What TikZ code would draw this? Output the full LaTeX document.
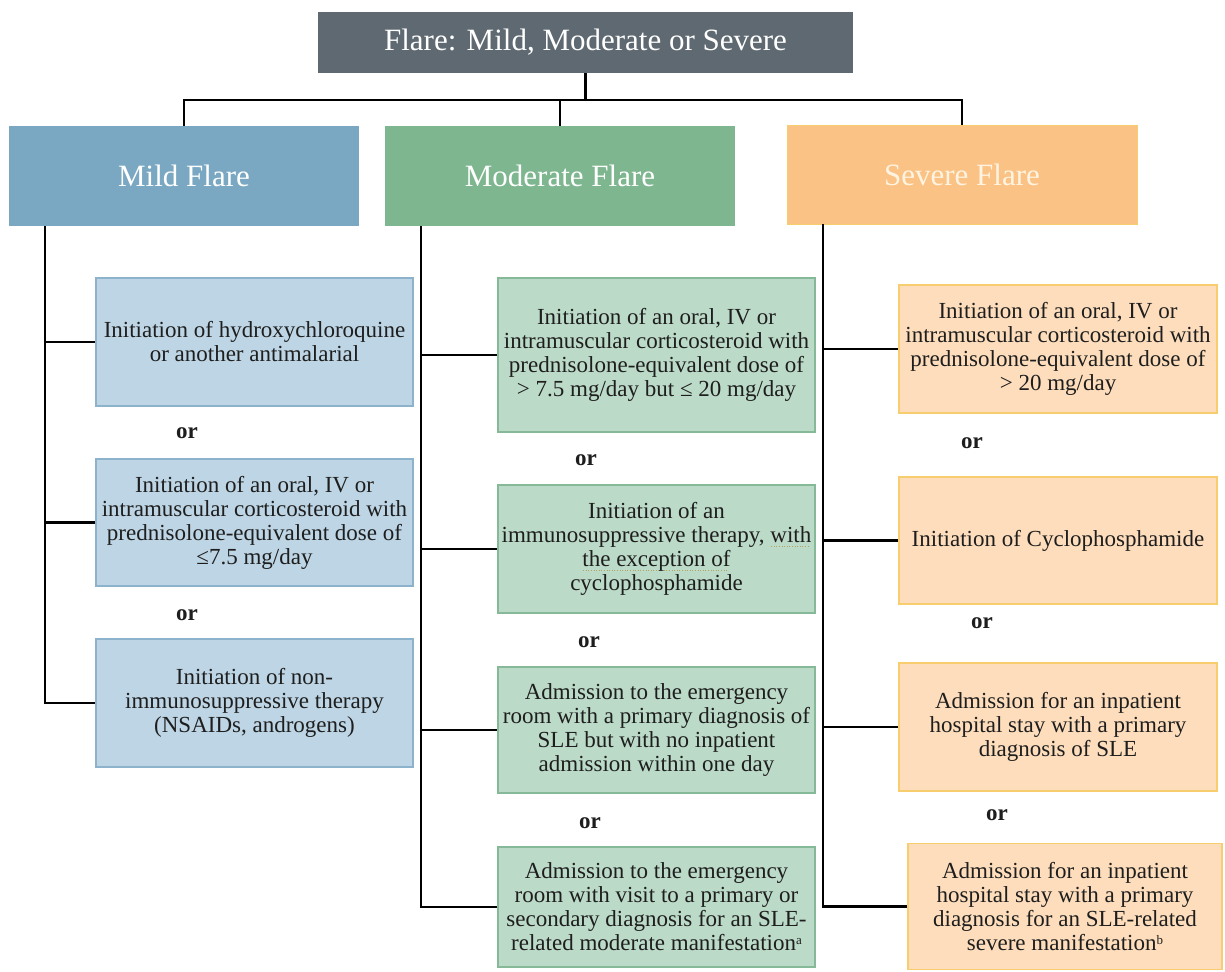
\documentclass[tikz,border=0pt]{standalone}
\usepackage{fontspec}
\setmainfont{Liberation Serif}
\definecolor{dotcol}{HTML}{B3A35C}
\newcommand\gdots[1]{\setbox0\hbox{#1}\rlap{\color{dotcol}\raisebox{-4pt}[0pt][0pt]{\hbox to \wd0{\leaders\hbox to 2.6pt{\hss\rule{1.1pt}{1.1pt}\hss}\hfill}}}\box0}
\newcommand\supmark[1]{\raisebox{6pt}[0pt][0pt]{\fontsize{13}{13}\selectfont #1}}
\definecolor{topfill}{HTML}{5E6971}
\definecolor{mildfill}{HTML}{7AA8C2}
\definecolor{modfill}{HTML}{7DB68F}
\definecolor{sevfill}{HTML}{FAC284}
\definecolor{sevtext}{HTML}{FFF4E2}
\definecolor{mildlight}{HTML}{BDD5E4}
\definecolor{milddraw}{HTML}{8CB2CC}
\definecolor{modlight}{HTML}{BBDAC7}
\definecolor{moddraw}{HTML}{85B997}
\definecolor{sevlight}{HTML}{FDDDBB}
\definecolor{sevdraw}{HTML}{F7CD6E}
\definecolor{txtcol}{HTML}{1E1E1E}
\begin{document}
\begin{tikzpicture}[x=1pt,y=-1pt,
  hdr/.style={inner sep=0pt, text=white, font=\fontsize{31}{33}\selectfont, minimum width=350pt, minimum height=100pt},
  child/.style={draw, line width=1.6pt, align=center, inner sep=0pt, text=txtcol, font=\fontsize{23}{24}\selectfont, minimum width=317pt},
  mildbox/.style={child, fill=mildlight, draw=milddraw},
  modbox/.style={child, fill=modlight, draw=moddraw},
  sevbox/.style={child, fill=sevlight, draw=sevdraw},
  ortext/.style={inner sep=0pt, text=txtcol, font=\fontsize{23}{24}\selectfont\bfseries},
  conn/.style={draw=black, line width=2.4pt, line join=miter}
]
\useasboundingbox[fill=white] (0,0) rectangle (1225,971);

% top
\node[inner sep=0pt, fill=topfill, text=white, font=\fontsize{31}{33}\selectfont, minimum width=535pt, minimum height=61pt] (top) at (585.5,42.5) {Flare: Mild, Moderate or Severe};

% headers
\node[hdr, fill=mildfill] (mild) at (184,176) {Mild Flare};
\node[hdr, fill=modfill] (mod) at (560,176) {Moderate Flare};
\node[hdr, fill=sevfill, draw=sevdraw, line width=1pt, text=sevtext, minimum height=98pt] (sev) at (962,175) {Severe Flare};

% mild children
\node[mildbox, minimum height=128pt] (m1) at (254.5,342) {Initiation of hydroxychloroquine\\or another antimalarial};
\node[ortext] (mo1) at (187,433) {or};
\node[mildbox, minimum height=127pt] (m2) at (254.5,522.5) {Initiation of an oral, IV or\\intramuscular corticosteroid with\\prednisolone-equivalent dose of\\≤7.5 mg/day};
\node[ortext] (mo2) at (187,615) {or};
\node[mildbox, minimum height=128pt] (m3) at (254.5,703) {Initiation of non-\\immunosuppressive therapy\\(NSAIDs, androgens)};

% moderate children
\node[modbox, minimum height=154pt] (d1) at (656.5,355) {Initiation of an oral, IV or\\intramuscular corticosteroid with\\prednisolone-equivalent dose of\\> 7.5 mg/day but ≤ 20 mg/day};
\node[ortext] (do1) at (586,460) {or};
\node[modbox, minimum height=128pt] (d2) at (656.5,549) {Initiation of an\\immunosuppressive therapy, \gdots{with}\\\gdots{the exception of}\\cyclophosphamide};
\node[ortext] (do2) at (589,642) {or};
\node[modbox, minimum height=126pt] (d3) at (656.5,730) {Admission to the emergency\\room with a primary diagnosis of\\SLE but with no inpatient\\admission within one day};
\node[ortext] (do3) at (590,823) {or};
\node[modbox, minimum height=120pt] (d4) at (656.5,907) {Admission to the emergency\\room with visit to a primary or\\secondary diagnosis for an SLE-\\related moderate manifestation\supmark{a}};

% severe children
\node[sevbox, minimum width=318pt, minimum height=128pt] (s1) at (1058,349) {Initiation of an oral, IV or\\intramuscular corticosteroid with\\prednisolone-equivalent dose of\\> 20 mg/day};
\node[ortext] (so1) at (972,443) {or};
\node[sevbox, minimum width=318pt, minimum height=127pt] (s2) at (1058,540.5) {Initiation of Cyclophosphamide};
\node[ortext] (so2) at (982,623) {or};
\node[sevbox, minimum width=318pt, minimum height=128pt] (s3) at (1058,727) {Admission for an inpatient\\hospital stay with a primary\\diagnosis of SLE};
\node[ortext] (so3) at (997,815) {or};
\node[sevbox, minimum width=314pt, minimum height=126pt] (s4) at (1065,906.5) {Admission for an inpatient\\hospital stay with a primary\\diagnosis for an SLE-related\\severe manifestation\supmark{b}};

% top connectors
\coordinate (bus) at (585.5,100);
\draw[conn] (top.south) -- (top.south |- bus);
\draw[conn] (mild.north) -- (mild.north |- bus) -- (sev.north |- bus) -- (sev.north);
\draw[conn] (mod.north) -- (mod.north |- bus);

% trunks
\coordinate (mt) at (45,226);
\draw[conn] (mt) |- (m3.west);
\draw[conn] (mt |- m1.west) -- (m1.west);
\draw[conn] (mt |- m2.west) -- (m2.west);

\coordinate (dt) at (421,226);
\draw[conn] (dt) |- (d4.west);
\draw[conn] (dt |- d1.west) -- (d1.west);
\draw[conn] (dt |- d2.west) -- (d2.west);
\draw[conn] (dt |- d3.west) -- (d3.west);

\coordinate (st) at (823,224);
\draw[conn] (st) |- (s4.west);
\draw[conn] (st |- s1.west) -- (s1.west);
\draw[conn] (st |- s2.west) -- (s2.west);
\draw[conn] (st |- s3.west) -- (s3.west);
\end{tikzpicture}
\end{document}
